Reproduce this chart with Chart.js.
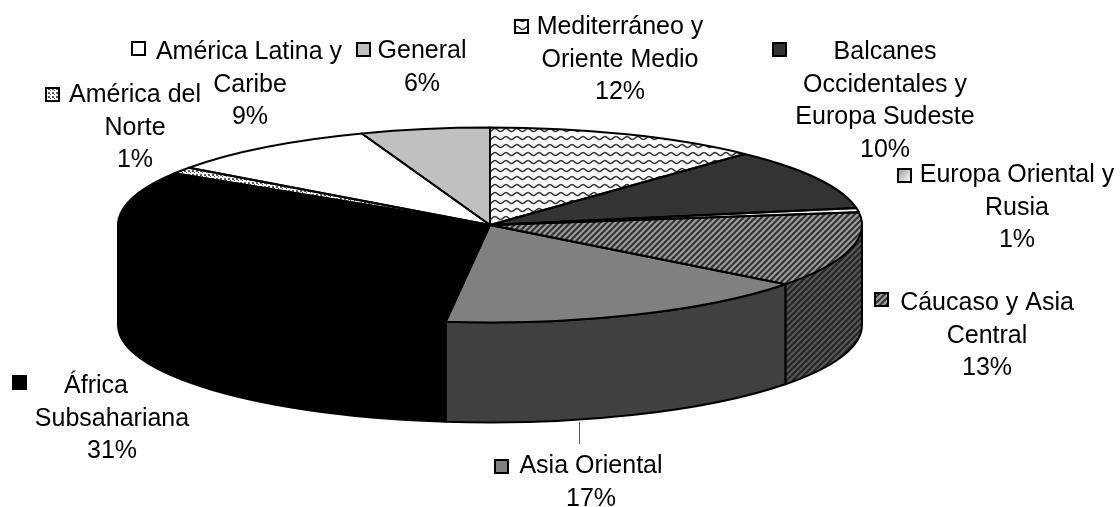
<!DOCTYPE html>
<html>
<head>
<meta charset="utf-8">
<style>
  html, body { margin: 0; padding: 0; background: #fff; }
  canvas { display: block; }
</style>
<script src="https://cdn.jsdelivr.net/npm/chart.js@4/dist/chart.umd.min.js"></script>
</head>
<body>
<canvas id="chart" width="1120" height="507"></canvas>
<script>
const categories = [
  'Mediterráneo y Oriente Medio',
  'Balcanes Occidentales y Europa Sudeste',
  'Europa Oriental y Rusia',
  'Cáucaso y Asia Central',
  'Asia Oriental',
  'África Subsahariana',
  'América del Norte',
  'América Latina y Caribe',
  'General'
];
// the printed labels below are what the picture says
const shares = [12.0, 10.2, 0.7, 12.5, 16.5, 32.0, 1.1, 9.4, 5.6];
const percentLabels = ['12%', '10%', '1%', '13%', '17%', '31%', '1%', '9%', '6%'];

// how each category wraps on the picture
const labelLines = [
  ['Mediterráneo y', 'Oriente Medio'],
  ['Balcanes', 'Occidentales y', 'Europa Sudeste'],
  ['Europa Oriental y', 'Rusia'],
  ['Cáucaso y Asia', 'Central'],
  ['Asia Oriental'],
  ['África', 'Subsahariana'],
  ['América del', 'Norte'],
  ['América Latina y', 'Caribe'],
  ['General']
];

// label layout: centre x of the text, baseline of first line, legend key corner
const labelLayout = [
  {x: 620, y: 34, keyX: 515, keyY: 20},
  {x: 885, y: 59, keyX: 773, keyY: 43},
  {x: 1017, y: 182, keyX: 898, keyY: 169},
  {x: 987, y: 310, keyX: 875, keyY: 293},
  {x: 591, y: 473, keyX: 495, keyY: 460},
  {x: 112, y: 393, keyX: 13, keyY: 376, firstX: 96},
  {x: 135, y: 102, keyX: 46, keyY: 88},
  {x: 250, y: 59, keyX: 132, keyY: 42, firstX: 249},
  {x: 422, y: 58, keyX: 357, keyY: 43}
];

const TILT = 97.5 / 372;
const DEPTH = 100;
const LINE_HEIGHT = 32.7;

function makePattern(w, h, bg, paint) {
  const c = document.createElement('canvas');
  c.width = w;
  c.height = h;
  const g = c.getContext('2d');
  g.fillStyle = bg;
  g.fillRect(0, 0, w, h);
  paint(g);
  return g.createPattern(c, 'repeat');
}

function stripes(bg, fg) {
  return makePattern(6, 6, bg, g => {
    g.strokeStyle = fg;
    g.lineWidth = 2;
    g.beginPath();
    g.moveTo(-3, 3); g.lineTo(3, -3);
    g.moveTo(0, 6); g.lineTo(6, 0);
    g.moveTo(3, 9); g.lineTo(9, 3);
    g.stroke();
  });
}

function waveTile() {
  return makePattern(11, 8, '#fff', g => {
    g.strokeStyle = '#2a2a2a';
    g.lineWidth = 1.7;
    g.beginPath();
    g.moveTo(0, 2.5);
    g.bezierCurveTo(2.5, 2.5, 3, 5.5, 5.5, 5.5);
    g.bezierCurveTo(8, 5.5, 8.5, 2.5, 11, 2.5);
    g.stroke();
  });
}

function dotTile() {
  return makePattern(4, 4, '#fff', g => {
    g.fillStyle = '#555';
    g.fillRect(0, 0, 2, 2);
    g.fillRect(2, 2, 1, 1);
  });
}

const caucasoBg = '#333333';
const caucasoFg = '#a0a0a0';

const wave = waveTile();
const dots = dotTile();
const caucasoTop = stripes(caucasoBg, caucasoFg);
const caucasoSide = stripes('#262626', '#585858');

const topFills = [wave, '#333333', '#f2f2f2', caucasoTop, '#808080', '#000000', dots, '#ffffff', '#c0c0c0'];
const sideFills = [wave, '#1c1c1c', '#cccccc', caucasoSide, '#404040', '#000000', dots, '#cccccc', '#808080'];

// the pie is squashed with the context, so undo that for the tiles
for (const p of [wave, dots, caucasoTop]) {
  p.setTransform(new DOMMatrix().scale(1, 1 / TILT));
}

function keyFill(ctx, i, box) {
  if (i === 0) return waveTile();
  if (i === 3) return stripes(caucasoBg, caucasoFg);
  if (i === 6) return dotTile();
  if (i === 2) {
    const g = ctx.createLinearGradient(box.keyX, box.keyY, box.keyX + 13, box.keyY + 13);
    g.addColorStop(0, '#999');
    g.addColorStop(1, '#fff');
    return g;
  }
  return topFills[i];
}

function sliceGeometry(arc) {
  const p = arc.getProps(['x', 'y', 'startAngle', 'endAngle', 'outerRadius'], true);
  return {cx: p.x, cy: p.y, a0: p.startAngle, a1: p.endAngle, rx: p.outerRadius, ry: p.outerRadius * TILT};
}

const pie3d = {
  id: 'pie3d',
  beforeDatasetsDraw(chart) {
    const ctx = chart.ctx;
    const arcs = chart.getDatasetMeta(0).data;
    ctx.save();
    ctx.lineWidth = 2;
    ctx.strokeStyle = '#000';
    ctx.lineJoin = 'round';
    arcs.forEach((arc, i) => {
      const s = sliceGeometry(arc);
      const from = Math.max(s.a0, 0);
      const to = Math.min(s.a1, Math.PI);
      if (to <= from) return;
      ctx.beginPath();
      ctx.ellipse(s.cx, s.cy, s.rx, s.ry, 0, from, to);
      ctx.ellipse(s.cx, s.cy + DEPTH, s.rx, s.ry, 0, to, from, true);
      ctx.closePath();
      ctx.fillStyle = sideFills[i];
      ctx.fill();
      ctx.stroke();
    });
    ctx.restore();

    const c = sliceGeometry(arcs[0]);
    ctx.save();
    ctx.translate(c.cx, c.cy);
    ctx.scale(1, TILT);
    ctx.translate(-c.cx, -c.cy);
  },
  afterDatasetsDraw(chart) {
    const ctx = chart.ctx;
    ctx.restore();
    ctx.save();
    ctx.lineWidth = 2;
    ctx.strokeStyle = '#000';
    ctx.lineJoin = 'round';
    chart.getDatasetMeta(0).data.forEach(arc => {
      const s = sliceGeometry(arc);
      ctx.beginPath();
      ctx.moveTo(s.cx, s.cy);
      ctx.ellipse(s.cx, s.cy, s.rx, s.ry, 0, s.a0, s.a1);
      ctx.closePath();
      ctx.stroke();
    });
    ctx.restore();
  },
  afterDraw(chart) {
    const ctx = chart.ctx;
    ctx.save();
    // leader line under the pie to the Asia Oriental label
    ctx.strokeStyle = '#555';
    ctx.lineWidth = 1;
    ctx.beginPath();
    ctx.moveTo(579.5, 422);
    ctx.lineTo(579.5, 444);
    ctx.stroke();

    ctx.font = '25px "Liberation Sans", Arial, sans-serif';
    ctx.textAlign = 'center';
    ctx.textBaseline = 'alphabetic';
    categories.forEach((name, i) => {
      const box = labelLayout[i];
      const lines = labelLines[i].concat(percentLabels[i]);
      ctx.fillStyle = '#000';
      lines.forEach((line, n) => {
        const x = n === 0 && box.firstX ? box.firstX : box.x;
        ctx.fillText(line, x, box.y + n * LINE_HEIGHT);
      });
      ctx.fillStyle = keyFill(ctx, i, box);
      ctx.strokeStyle = '#000';
      ctx.lineWidth = 2;
      ctx.fillRect(box.keyX, box.keyY, 13, 13);
      ctx.strokeRect(box.keyX, box.keyY, 13, 13);
    });
    ctx.restore();
  }
};

new Chart(document.getElementById('chart'), {
  type: 'pie',
  data: {
    labels: categories,
    datasets: [{
      data: shares,
      backgroundColor: topFills,
      borderWidth: 0,
      clip: false
    }]
  },
  options: {
    responsive: false,
    animation: false,
    events: [],
    radius: 372,
    layout: {padding: {left: 0, right: 140, top: 0, bottom: 57}},
    plugins: {
      legend: {display: false},
      tooltip: {enabled: false}
    }
  },
  plugins: [pie3d]
});
</script>
</body>
</html>
